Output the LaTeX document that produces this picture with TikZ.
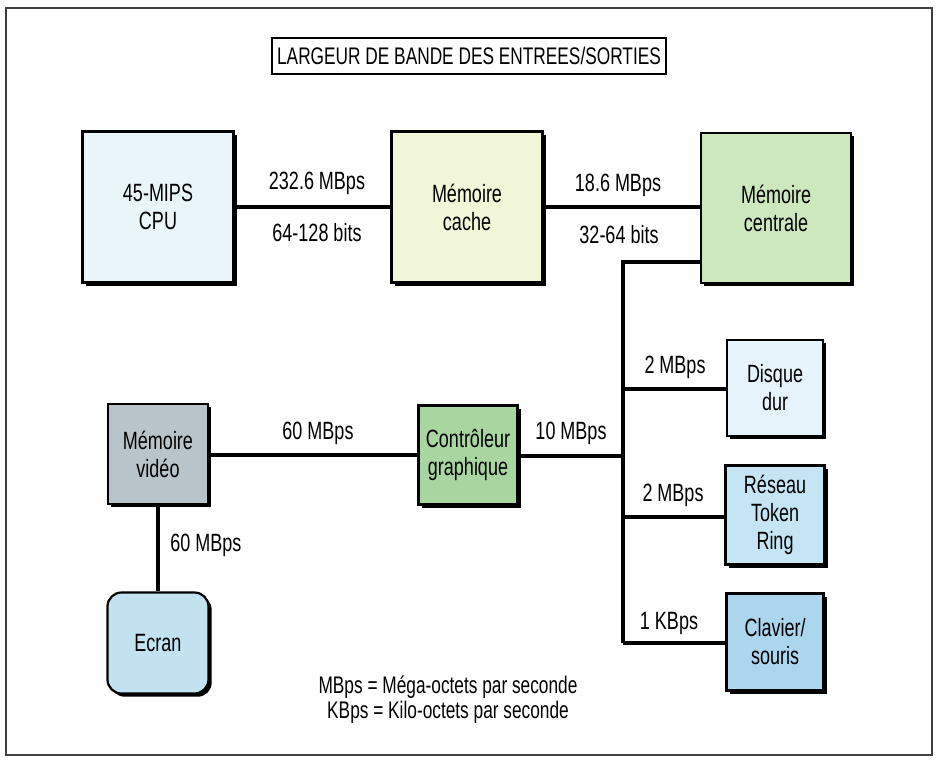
\documentclass[tikz,border=0pt]{standalone}
\usepackage{fontspec}
\setmainfont{Liberation Sans}[FakeStretch=0.72]
\usetikzlibrary{shadows}
\definecolor{cpuC}{HTML}{EAF5FA}
\definecolor{cacheC}{HTML}{F1F7D8}
\definecolor{centralC}{HTML}{CDE7BE}
\definecolor{videoC}{HTML}{B8C4CA}
\definecolor{ctrlC}{HTML}{A9D5A1}
\definecolor{disqueC}{HTML}{E6F3FA}
\definecolor{reseauC}{HTML}{C6E5F4}
\definecolor{clavierC}{HTML}{ABD6EE}
\definecolor{ecranC}{HTML}{C2E2F0}
\begin{document}
\begin{tikzpicture}[x=0.5pt,y=-0.5pt,
  txt/.style={font=\fontsize{12.5}{14}\selectfont, align=center, inner sep=0pt},
  unit/.style={txt, draw=black, line width=1.1pt, minimum width=#1*0.5pt, minimum height=#1*0.5pt,
    drop shadow={shadow xshift=1.6pt, shadow yshift=-1.6pt, fill=black, opacity=1}},
  bus/.style={draw=black, line width=1.6pt},
  lbl/.style={txt}
]
\useasboundingbox (0,0) rectangle (940,760);
\draw[line width=0.7pt, draw=black!75] (6,8) rectangle (932,755);

% title
\node[draw=black, line width=1.4pt, minimum width=197pt, minimum height=18pt, inner sep=0pt,
      font=\fontsize{12}{14}\selectfont] (title) at (469,56) {LARGEUR DE BANDE DES ENTREES/SORTIES};

% top row
\node[unit=151, fill=cpuC] (cpu) at (158,207) {45-MIPS\\CPU};
\node[unit=151, fill=cacheC] (cache) at (467,207) {Mémoire\\cache};
\node[unit=150, fill=centralC] (central) at (776,208) {Mémoire\\centrale};

% middle
\node[unit=100, fill=videoC] (video) at (158,454) {Mémoire\\vidéo};
\node[unit=99, fill=ctrlC] (ctrl) at (468,455) {Contrôleur\\graphique};

% right column
\node[unit=96, fill=disqueC] (disque) at (775,388) {Disque\\dur};
\node[unit=99, fill=reseauC] (reseau) at (775,515) {Réseau\\Token\\Ring};
\node[unit=97, fill=clavierC] (clavier) at (775,642) {Clavier/\\souris};

% ecran
\node[unit=101, fill=ecranC, rounded corners=7pt] (ecran) at (158,643) {Ecran};

% bus coordinates
\coordinate (bustop) at (623,262);
\coordinate (busbot) at (623,643);
\coordinate (jdisque) at (623,389);
\coordinate (jreseau) at (623,517);
\coordinate (jctrl) at (623,456);

% connectors
\draw[bus] (cpu.east) -- (cpu.east -| cache.west);
\draw[bus] (cache.east) -- (cache.east -| central.west);
\draw[bus] (bustop -| central.west) -- (bustop) -- (busbot);
\draw[bus] (jdisque) -- (jdisque -| disque.west);
\draw[bus] (jreseau) -- (jreseau -| reseau.west);
\draw[bus] (busbot) -- (busbot -| clavier.west);
\draw[bus] (ctrl.east |- jctrl) -- (jctrl);
\draw[bus] (video.east |- ctrl.west) -- (ctrl.west);
\draw[bus] (video.south) -- (ecran.north);

% labels
\node[lbl] (l1) at (317,183) {232.6 MBps};
\node[lbl] (l2) at (317,233) {64-128 bits};
\node[lbl] (l3) at (618,185) {18.6 MBps};
\node[lbl] (l4) at (619,235) {32-64 bits};
\node[lbl] (l5) at (318,433) {60 MBps};
\node[lbl] (l6) at (571,433) {10 MBps};
\node[lbl] (l7) at (675,367) {2 MBps};
\node[lbl] (l8) at (673,495) {2 MBps};
\node[lbl] (l9) at (669,623) {1 KBps};
\node[lbl, anchor=west] (l10) at (170,545) {60 MBps};

% legend
\node[txt, font=\fontsize{12}{12.5}\selectfont] (legend) at (448,700) {MBps = Méga-octets par seconde\\KBps = Kilo-octets par seconde};
\end{tikzpicture}
\end{document}
